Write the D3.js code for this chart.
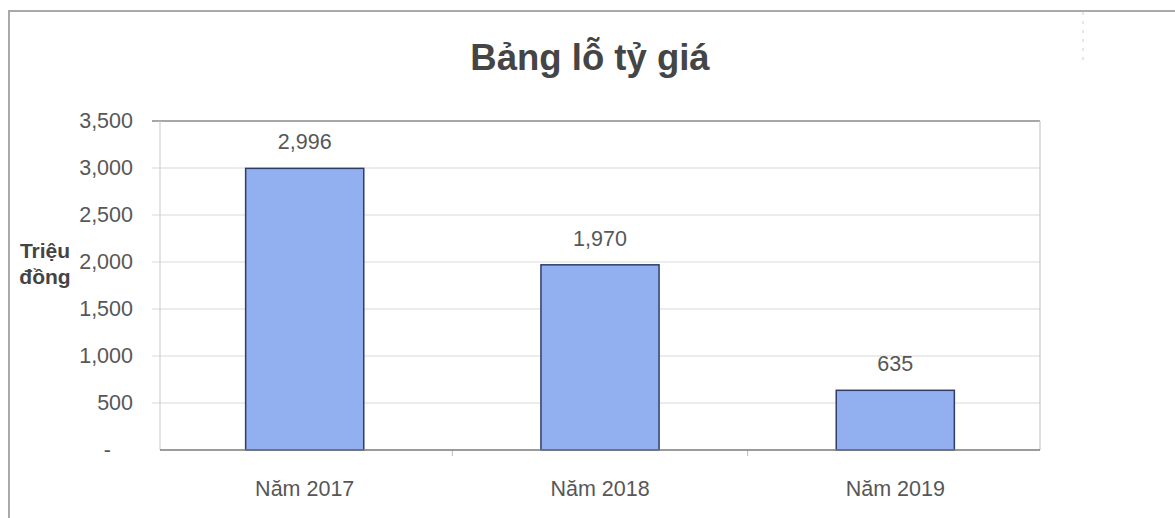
<!DOCTYPE html>
<html><head><meta charset="utf-8">
<script src="https://cdn.jsdelivr.net/npm/d3@7"></script>
<style>body{margin:0;background:#fff}svg{display:block;font-family:Arial,"Liberation Sans",sans-serif}</style>
</head><body><svg id="c" width="1175" height="518"></svg>
<script>
const categories = ["Năm 2017", "Năm 2018", "Năm 2019"];
const values = [2996, 1970, 635];
const yTicks = [0, 500, 1000, 1500, 2000, 2500, 3000, 3500];
const title = "Bảng lỗ tỷ giá";
const yLabel = ["Triệu", "đồng"];

const svg = d3.select("#c");
const m = {l:160, r:1040, t:121, b:450};
const x = d3.scaleBand().domain(categories).range([m.l, m.r]).paddingInner(0.6).paddingOuter(0.29);
const y = d3.scaleLinear().domain([0, 3500]).range([m.b, m.t]);
const fmt = d3.format(",");

// outer frame
svg.append("path").attr("d", "M9,518V11H1175").attr("fill","none").attr("stroke","#a9a9a9").attr("stroke-width",2);
svg.append("line").attr("x1",1083).attr("x2",1083).attr("y1",12).attr("y2",66).attr("stroke","#ccc").attr("stroke-dasharray","3,6");

// title
svg.append("text").attr("x",590).attr("y",70).attr("text-anchor","middle")
  .attr("font-size",36.5).attr("font-weight","bold").attr("fill","#454545").text(title);

// gridlines
svg.append("g").selectAll("line").data(yTicks.filter(d=>d>0)).join("line")
  .attr("x1",152).attr("x2",m.r).attr("y1",d=>y(d)).attr("y2",d=>y(d))
  .attr("stroke",d=>d===3500?"#8a8a8a":"#d9d9d9").attr("stroke-width",d=>d===3500?1.5:1.2);
// plot sides
svg.append("line").attr("x1",m.l).attr("x2",m.l).attr("y1",m.t).attr("y2",m.b).attr("stroke","#d0d0d0").attr("stroke-width",1.2);
svg.append("line").attr("x1",m.r).attr("x2",m.r).attr("y1",m.t).attr("y2",m.b).attr("stroke","#c8c8c8").attr("stroke-width",1.2);

// y axis labels
const ya = svg.append("g").attr("transform",`translate(${m.l},0)`)
  .call(d3.axisLeft(y).tickValues(yTicks).tickSize(0).tickPadding(27).tickFormat(d=>d===0?"-":fmt(d)));
ya.select(".domain").remove();
ya.selectAll("text").attr("font-size",21.5).attr("fill","#575757").attr("font-family","Arial, 'Liberation Sans', sans-serif");
ya.selectAll(".tick").filter(d=>d===0).select("text").attr("dx",-22);

// x axis
const xa = svg.append("g").attr("transform",`translate(0,${m.b})`)
  .call(d3.axisBottom(x).tickSize(0).tickPadding(31));
xa.select(".domain").remove();
xa.selectAll("text").attr("font-size",21.5).attr("fill","#575757").attr("font-family","Arial, 'Liberation Sans', sans-serif");
// separator ticks between categories
const bounds = categories.slice(0,-1).map(c => x(c) + x.bandwidth() + (x.step()-x.bandwidth())/2);
svg.append("g").selectAll("line").data(bounds).join("line")
  .attr("x1",d=>d).attr("x2",d=>d).attr("y1",m.b).attr("y2",m.b+6).attr("stroke","#bbb");

// bars
svg.append("g").selectAll("rect").data(values).join("rect")
  .attr("x",(d,i)=>x(categories[i])).attr("width",x.bandwidth())
  .attr("y",d=>y(d)).attr("height",d=>y(0)-y(d))
  .attr("fill","#92b0ef").attr("stroke","#2f3d66").attr("stroke-width",1.5);

// baseline
svg.append("line").attr("x1",m.l).attr("x2",m.r).attr("y1",m.b).attr("y2",m.b).attr("stroke","#7a7a7a").attr("stroke-width",1.5);

// value labels
svg.append("g").selectAll("text").data(values).join("text")
  .attr("x",(d,i)=>x(categories[i])+x.bandwidth()/2).attr("y",d=>y(d)-19)
  .attr("text-anchor","middle").attr("font-size",21.5).attr("fill","#575757").text(d=>fmt(d));

// y title
svg.append("text").attr("x",45).attr("y",258).attr("text-anchor","middle").attr("font-size",21).attr("font-weight","bold").attr("fill","#444")
  .selectAll("tspan").data(yLabel).join("tspan").attr("x",45).attr("dy",(d,i)=>i?26:0).text(d=>d);
</script></body></html>
